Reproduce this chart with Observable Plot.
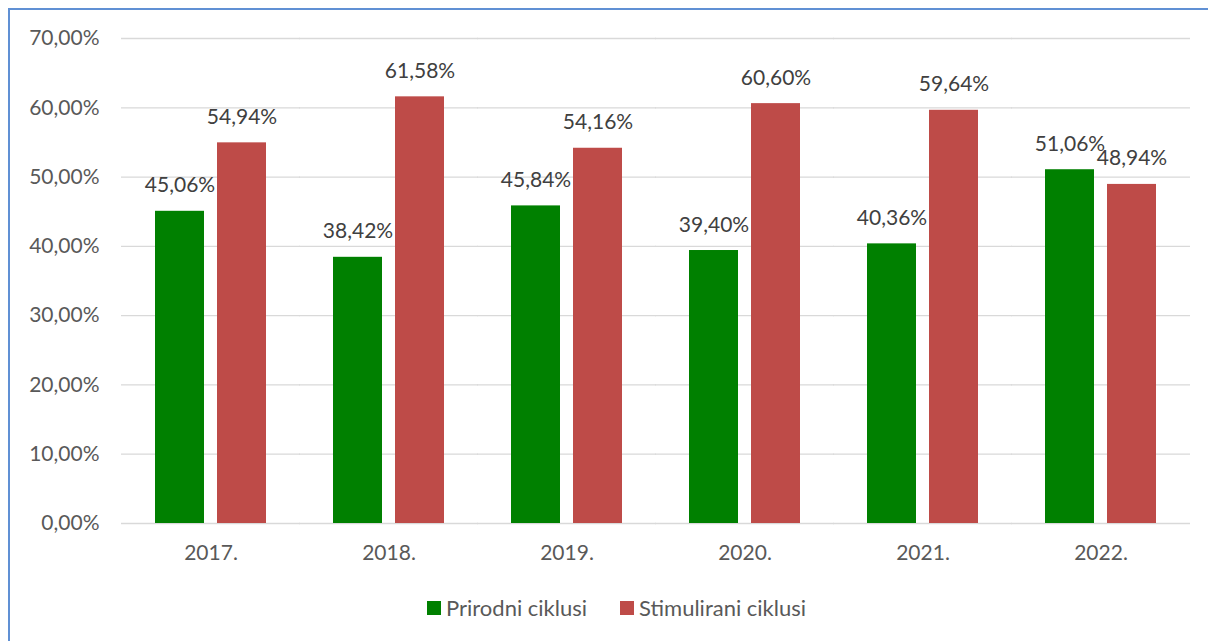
<!DOCTYPE html>
<html>
<head>
<meta charset="utf-8">
<script src="https://cdn.jsdelivr.net/npm/d3@7"></script>
<script src="https://cdn.jsdelivr.net/npm/@observablehq/plot@0.6"></script>
<style>
  html, body { margin: 0; padding: 0; background: #fff; }
  #wrap { position: relative; width: 1208px; height: 641px; overflow: hidden; background: #fff; font-family: Lato, "Open Sans", sans-serif; color: #595959; }
  #border { position: absolute; left: 8px; top: 8px; width: 1400px; height: 900px; border: 2px solid #6090D4; box-sizing: border-box; }
  #chart { position: absolute; left: 0; top: 0; }
  #legend { position: absolute; left: 427px; top: 594px; display: flex; align-items: center; font-size: 22px; white-space: nowrap; }
  .item { display: flex; align-items: center; margin-right: 33px; }
  .sw { width: 14px; height: 14px; margin-right: 5px; }
</style>
</head>
<body>
<div id="wrap">
  <div id="border"></div>
  <div id="chart"></div>
  <div id="legend"></div>
</div>
<script>
const years = ["2017.", "2018.", "2019.", "2020.", "2021.", "2022."];
const seriesNames = ["Prirodni ciklusi", "Stimulirani ciklusi"];
const seriesColors = ["#008000", "#BE4B48"];
const prirodni = [45.06, 38.42, 45.84, 39.40, 40.36, 51.06];
const stimulirani = [54.94, 61.58, 54.16, 60.60, 59.64, 48.94];
const yTicks = [0, 10, 20, 30, 40, 50, 60, 70];

const fmt = v => v.toFixed(2).replace(".", ",") + "%";

const data = [];
years.forEach((yr, i) => {
  data.push({year: yr, series: seriesNames[0], value: prirodni[i]});
  data.push({year: yr, series: seriesNames[1], value: stimulirani[i]});
});

const chart = Plot.plot({
  width: 1208,
  height: 575,
  marginLeft: 120,
  marginRight: 18,
  marginTop: 38,
  marginBottom: 52,
  style: {fontSize: "21px", fontFamily: "Lato, 'Open Sans', sans-serif", color: "#595959", background: "transparent", overflow: "visible"},
  fx: {domain: years, paddingInner: 0.377, paddingOuter: 0.1885, label: null},
  x: {domain: seriesNames, axis: null, paddingInner: 0.21, paddingOuter: 0},
  y: {domain: [0, 70], label: null},
  color: {domain: seriesNames, range: seriesColors},
  marks: [
    Plot.ruleY(yTicks, {stroke: "#D9D9D9", strokeWidth: 1.3, insetLeft: -34, insetRight: -34}),
    Plot.axisY({ticks: yTicks, tickFormat: fmt, tickSize: 0, tickPadding: 56, label: null, fontSize: 21, fill: "#595959"}),
    Plot.axisFx({anchor: "bottom", tickSize: 0, tickPadding: 22, label: null, fontSize: 21, fill: "#595959"}),
    Plot.barY(data, {fx: "year", x: "series", y: "value", fill: "series"}),
    Plot.text(data, {fx: "year", x: "series", y: "value", text: d => fmt(d.value), lineAnchor: "bottom", dy: -19, fontSize: 21, fill: "#404040"})
  ]
});
document.getElementById("chart").appendChild(chart);

const legend = document.getElementById("legend");
seriesNames.forEach((name, i) => {
  const item = document.createElement("div");
  item.className = "item";
  const sw = document.createElement("div");
  sw.className = "sw";
  sw.style.background = seriesColors[i];
  const label = document.createElement("span");
  label.textContent = name;
  item.appendChild(sw);
  item.appendChild(label);
  legend.appendChild(item);
});
</script>
</body>
</html>
